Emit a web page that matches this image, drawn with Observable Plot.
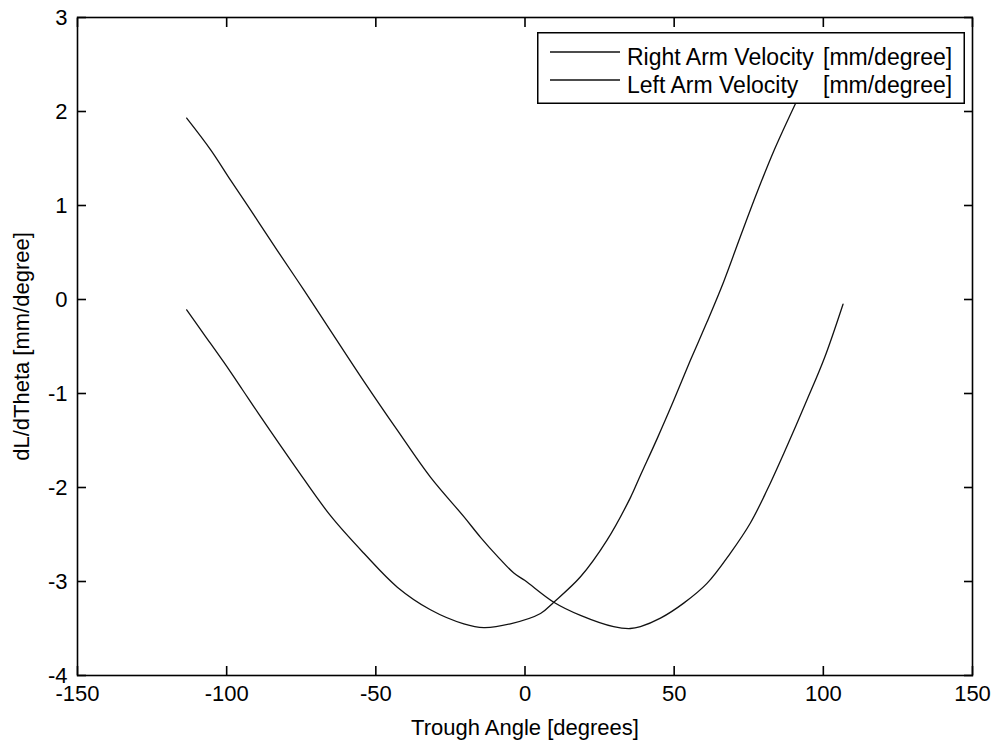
<!DOCTYPE html>
<html>
<head>
<meta charset="utf-8">
<script src="https://cdn.jsdelivr.net/npm/d3@7"></script>
<script src="https://cdn.jsdelivr.net/npm/@observablehq/plot@0.6"></script>
<style>
  body { margin: 0; background: #fff; }
  #wrap { position: relative; width: 994px; height: 740px; font-family: "Liberation Sans", Arial, Helvetica, sans-serif; }
  #legend { position: absolute; left: 537px; top: 32px; }
</style>
</head>
<body>
<div id="wrap">
  <div id="chart"></div>
  <svg id="legend" width="428" height="72"></svg>
</div>
<script>
// Tick labels
const xTicks = [-150, -100, -50, 0, 50, 100, 150];
const yTicks = [-4, -3, -2, -1, 0, 1, 2, 3];

// Series names
const seriesNames = ["Right Arm Velocity", "Left Arm Velocity"];
const unitLabel = "[mm/degree]";

// Right arm velocity (starts high at left, minimum near +35)
const rightX = [-113.4, -105.3, -98.7, -90.9, -83.0, -74.1, -65.2, -54.0, -42.8, -31.7, -20.5, -14.9, -9.3, -3.75, 0, 9.65, 18.6, 29.7, 35.3, 38.7, 45.4, 53.2, 61.0, 68.8, 75.5, 81.1, 86.7, 94.5, 100.4, 106.6];
const rightY = [1.93, 1.59, 1.27, 0.90, 0.52, 0.10, -0.33, -0.87, -1.39, -1.89, -2.31, -2.53, -2.73, -2.91, -2.99, -3.22, -3.36, -3.48, -3.50, -3.48, -3.39, -3.23, -3.02, -2.70, -2.38, -2.03, -1.64, -1.07, -0.62, -0.05];

// Left arm velocity (starts near 0 at left, minimum near -13)
const leftX = [-113.4, -107.6, -100.9, -94.7, -89.2, -77.0, -65.2, -54.0, -42.8, -31.7, -20.5, -13.8, -4.9, 5.2, 9.65, 18.6, 27.5, 35.3, 38.7, 44.3, 49.9, 55.4, 61.0, 66.6, 72.2, 77.8, 83.4, 90.6];
const leftY = [-0.11, -0.37, -0.67, -0.96, -1.22, -1.78, -2.30, -2.70, -3.06, -3.30, -3.45, -3.49, -3.45, -3.34, -3.22, -2.95, -2.56, -2.11, -1.87, -1.48, -1.07, -0.65, -0.24, 0.19, 0.67, 1.14, 1.58, 2.08];

const rightData = rightX.map((x, i) => ({x, y: rightY[i]}));
const leftData = leftX.map((x, i) => ({x, y: leftY[i]}));

const FONT = "Liberation Sans, Arial, Helvetica, sans-serif";
const fmt = d => String(d);

const chart = Plot.plot({
  width: 994,
  height: 740,
  marginLeft: 77,
  marginRight: 22,
  marginTop: 17,
  marginBottom: 65,
  style: {fontFamily: FONT, fontSize: "22px", color: "#000", background: "#fff", overflow: "visible"},
  x: {domain: [-150, 150]},
  y: {domain: [-4, 3]},
  marks: [
    Plot.line(rightData, {x: "x", y: "y", stroke: "#111", strokeWidth: 1.3, curve: "catmull-rom"}),
    Plot.line(leftData, {x: "x", y: "y", stroke: "#111", strokeWidth: 1.3, curve: "catmull-rom"}),
    Plot.frame({stroke: "#000", strokeWidth: 1.6}),
    Plot.axisX(xTicks, {anchor: "bottom", tickSize: -9, tickPadding: 19, strokeWidth: 1.6, fontSize: 22, tickFormat: fmt,
      label: "Trough Angle [degrees]", labelAnchor: "center", labelArrow: "none", labelOffset: 59}),
    Plot.axisX(xTicks, {anchor: "top", tickSize: -9, strokeWidth: 1.6, tickFormat: () => "", label: null}),
    Plot.axisY(yTicks, {anchor: "left", tickSize: -9, tickPadding: 19, strokeWidth: 1.6, fontSize: 22, tickFormat: fmt,
      label: "dL/dTheta [mm/degree]", labelAnchor: "center", labelArrow: "none", labelOffset: 64}),
    Plot.axisY(yTicks, {anchor: "right", tickSize: -9, strokeWidth: 1.6, tickFormat: () => "", label: null})
  ]
});
document.getElementById("chart").appendChild(chart);

// Legend (drawn over the plot with a white background, like MATLAB)
const lg = d3.select("#legend");
lg.append("rect").attr("x", 0.75).attr("y", 0.75).attr("width", 426.5).attr("height", 70.5)
  .attr("fill", "#fff").attr("stroke", "#000").attr("stroke-width", 1.5);
const rows = [20, 48];
seriesNames.forEach((name, i) => {
  const cy = rows[i];
  lg.append("line").attr("x1", 13).attr("x2", 83).attr("y1", cy).attr("y2", cy)
    .attr("stroke", "#111").attr("stroke-width", 1.3);
  lg.append("text").attr("x", 90).attr("y", cy + 12.5)
    .attr("font-family", FONT).attr("font-size", 23).attr("fill", "#000").text(name);
  lg.append("text").attr("x", 286).attr("y", cy + 12.5)
    .attr("font-family", FONT).attr("font-size", 23).attr("fill", "#000").text(unitLabel);
});
</script>
</body>
</html>
